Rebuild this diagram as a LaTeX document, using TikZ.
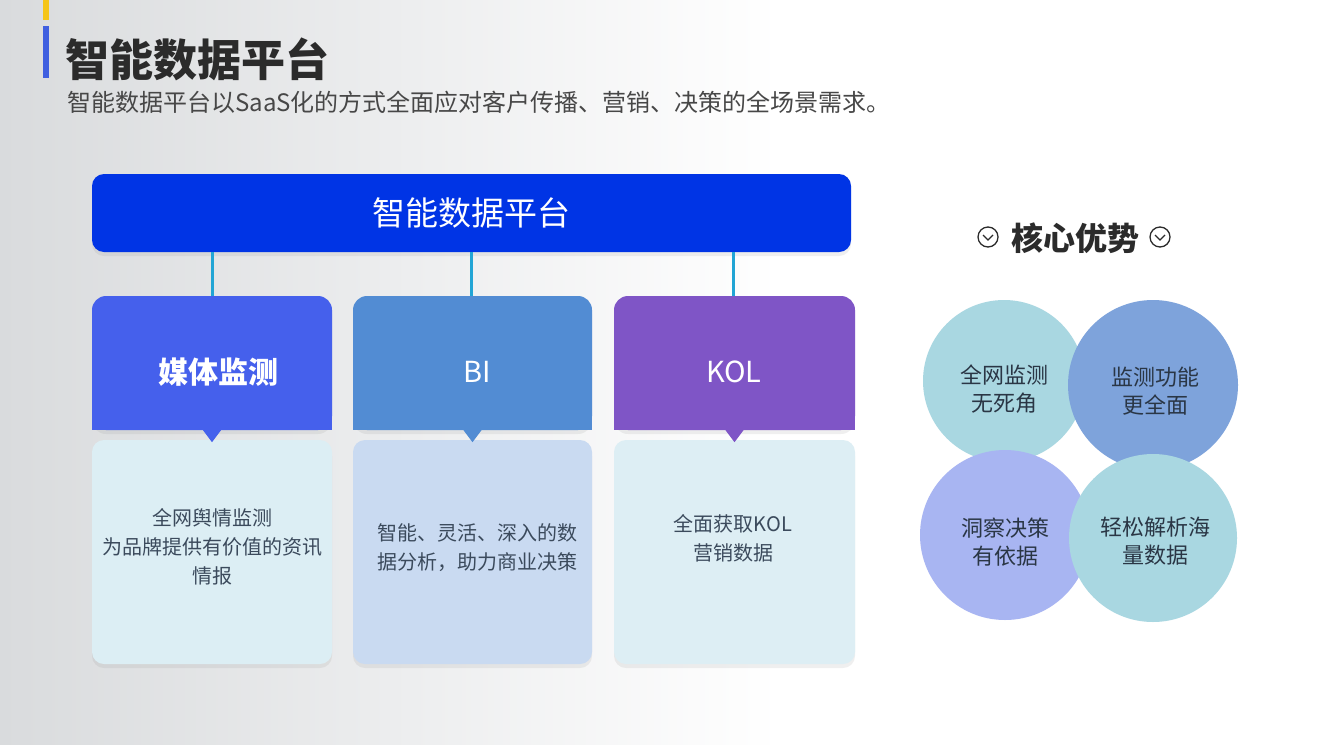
\documentclass[tikz,border=0pt]{standalone}
\usepackage{fontspec}
\setmainfont{Noto Sans CJK SC}
\usetikzlibrary{shadows}
\definecolor{bgL}{HTML}{D9DBDD}
\definecolor{accY}{HTML}{F5C518}
\definecolor{accB}{HTML}{3F5FE0}
\definecolor{titlec}{HTML}{2B2B2B}
\definecolor{subc}{HTML}{474747}
\definecolor{topc}{HTML}{0034E5}
\definecolor{linec}{HTML}{22A5D5}
\definecolor{hA}{HTML}{4560EC}
\definecolor{hB}{HTML}{528CD3}
\definecolor{hC}{HTML}{7F55C6}
\definecolor{bA}{HTML}{DCEEF4}
\definecolor{bB}{HTML}{C9DAF1}
\definecolor{bC}{HTML}{DDEEF4}
\definecolor{bodytext}{HTML}{3B4A5C}
\definecolor{cA}{HTML}{A9D7E1}
\definecolor{cB}{HTML}{7EA3DB}
\definecolor{cC}{HTML}{A8B5F2}
\definecolor{ctext}{HTML}{2A3645}
\begin{document}
\begin{tikzpicture}[x=1pt,y=-1pt,
  softshadow/.style={drop shadow={opacity=0.12,shadow xshift=0pt,shadow yshift=-4pt}},
  hdrbox/.style={rectangle,rounded corners=14pt,minimum width=#1,minimum height=134pt,inner sep=0pt,softshadow},
  bodybox/.style={rectangle,rounded corners=12pt,minimum width=#1,minimum height=224pt,inner sep=0pt,softshadow},
  hdrtext/.style={inner sep=0pt,text=white,font=\fontsize{29}{34}\selectfont},
  bodytxt/.style={inner sep=0pt,text=bodytext,align=center,font=\fontsize{20}{29}\selectfont},
  adv/.style={circle,inner sep=0pt,minimum size=#1},
  advtext/.style={inner sep=0pt,text=ctext,align=center,font=\fontsize{22}{28}\selectfont},
  conn/.style={draw=linec,line width=3pt},
  icon/.style={circle,draw=titlec,line width=1.3pt,minimum size=20pt,inner sep=0pt}
]
\useasboundingbox (0,0) rectangle (1329,744);
\fill[white] (0,0) rectangle (1329,744);
\shade[left color=bgL,right color=white] (0,0) rectangle (780,744);
% accent bars
\fill[accY] (43,0) rectangle (49,20);
\fill[accB] (43,26) rectangle (49,78);
% titles
\node[anchor=west,inner sep=0pt,text=titlec,font=\bfseries\fontsize{44}{48}\selectfont] (title) at (65,59) {智能数据平台};
\node[anchor=west,inner sep=0pt,text=subc,font=\fontsize{24}{28}\selectfont] (sub) at (67,102) {智能数据平台以SaaS化的方式全面应对客户传播、营销、决策的全场景需求。};
% top box
\node[rectangle,rounded corners=12pt,fill=topc,minimum width=759pt,minimum height=78pt,text=white,font=\fontsize{33}{38}\selectfont,softshadow] (top) at (471.5,213) {智能数据平台};
% headers
\node[hdrbox=240pt,fill=hA] (h1) at (212,363) {};
\node[hdrbox=239pt,fill=hB] (h2) at (472.5,363) {};
\node[hdrbox=241pt,fill=hC] (h3) at (734.5,363) {};
\foreach \h/\c in {h1/hA,h2/hB,h3/hC}{
  \fill[\c] (\h.south west) rectangle ++(15,-15);
  \fill[\c] (\h.south east) rectangle ++(-15,-15);
}
% bodies
\node[bodybox=240pt,fill=bA] (b1) at (212,552) {};
\node[bodybox=239pt,fill=bB] (b2) at (472.5,552) {};
\node[bodybox=241pt,fill=bC] (b3) at (734.5,552) {};
% pointers
\foreach \h/\c in {h1/hA,h2/hB,h3/hC}{
  \fill[\c] ([xshift=-9pt]\h.south) -- ([xshift=9pt]\h.south) -- ([yshift=-12pt]\h.south) -- cycle;
}
% header texts
\node[hdrtext,font=\bfseries\fontsize{30}{34}\selectfont] (t1) at (218,372) {媒体监测};
\node[hdrtext] (t2) at (477,372) {BI};
\node[hdrtext] (t3) at (734,372) {KOL};
% body texts
\node[bodytxt] (x1) at (212,547) {全网舆情监测\\为品牌提供有价值的资讯\\情报};
\node[bodytxt] (x2) at (477,548) {智能、灵活、深入的数\\据分析，助力商业决策};
\node[bodytxt] (x3) at (733,538) {全面获取KOL\\营销数据};
% connectors
\draw[conn] (top.south -| h1.north) -- (h1.north);
\draw[conn] (top.south -| 471,0) -- (471,296) coordinate (k2);
\draw[conn] (top.south -| 733,0) -- (733,296) coordinate (k3);
% advantages title
\node[inner sep=0pt,text=titlec,font=\bfseries\fontsize{32}{36}\selectfont] (advt) at (1075,238) {核心优势};
\node[icon] (ic1) at (988,237) {};
\node[icon] (ic2) at (1160,237) {};
\foreach \i in {ic1,ic2}{
  \draw[titlec,line width=1.3pt] ([xshift=-5pt,yshift=2pt]\i.center) -- ([yshift=-3pt]\i.center) -- ([xshift=5pt,yshift=2pt]\i.center);
}
% circles
\node[adv=162pt,fill=cA] (c1) at (1004,381) {};
\node[adv=170pt,fill=cB] (c2) at (1153,385) {};
\node[adv=170pt,fill=cC] (c3) at (1005,535) {};
\node[adv=168pt,fill=cA] (c4) at (1153,538) {};
\node[advtext] (c1t) at (1004,389) {全网监测\\无死角};
\node[advtext] (c2t) at (1155,391) {监测功能\\更全面};
\node[advtext] (c3t) at (1005,542) {洞察决策\\有依据};
\node[advtext] (c4t) at (1155,541) {轻松解析海\\量数据};
\end{tikzpicture}
\end{document}
